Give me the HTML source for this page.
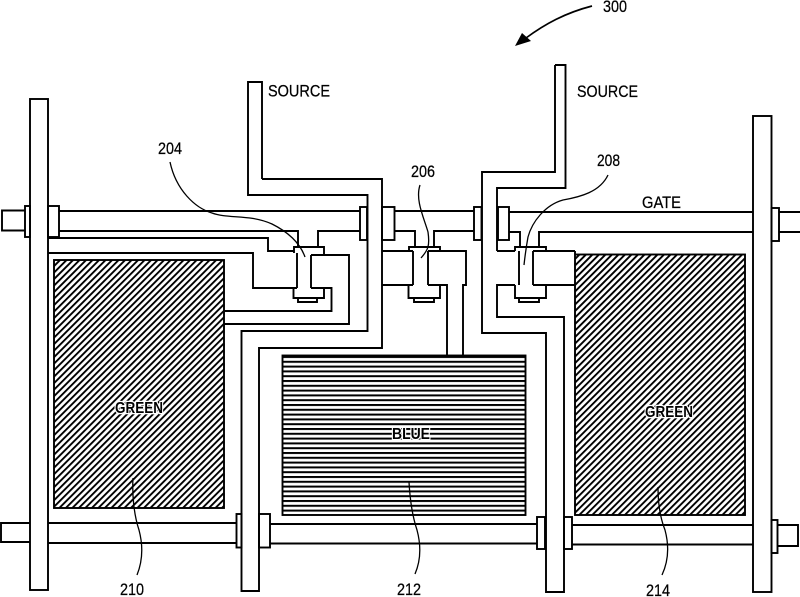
<!DOCTYPE html>
<html><head><meta charset="utf-8"><style>
html,body{margin:0;padding:0;background:#fff;width:800px;height:597px;overflow:hidden}
svg{display:block}
text{font-family:"Liberation Sans",sans-serif;fill:#000}
.n{font-size:17px;stroke:#000;stroke-width:.25}
</style></head><body>
<svg width="800" height="597" viewBox="0 0 800 597" xmlns="http://www.w3.org/2000/svg">
<defs>
<pattern id="h" width="4.6" height="4.6" patternUnits="userSpaceOnUse" patternTransform="rotate(45)">
<rect width="4.6" height="4.6" fill="#fff"/><rect x="0" y="0" width="1.9" height="4.6" fill="#000"/>
</pattern>
<pattern id="b" width="10" height="4.8" patternUnits="userSpaceOnUse" patternTransform="translate(0 356)">
<rect width="10" height="4.8" fill="#fff"/><rect y="0" width="10" height="2" fill="#000"/>
</pattern>
</defs>
<g fill="none" stroke="#000" stroke-width="1.900" stroke-linejoin="miter">
<!-- pixels -->
<rect x="54" y="260" width="170" height="248" fill="url(#h)"/>
<rect x="282.500" y="355.500" width="243" height="159.500" fill="url(#b)"/>
<rect x="575" y="254.500" width="170" height="260.500" fill="url(#h)"/>

<!-- vertical bars -->
<rect x="30" y="99" width="18" height="491"/>
<rect x="753" y="116" width="18.500" height="476"/>
<!-- top gate stubs and caps -->
<path d="M25 210.500H2V230.500H25"/>
<rect x="25" y="206" width="5" height="31"/>
<rect x="48" y="206" width="11" height="31"/>
<path d="M59 211H360M59 231H298V247M318 247V231H360"/>
<rect x="360" y="207" width="7" height="33"/>
<rect x="382" y="207" width="12.500" height="33"/>
<path d="M394.500 211H474M394.500 231H415V247M434 247V231H474"/>
<rect x="474" y="207" width="7.500" height="33"/>
<rect x="498" y="207" width="11" height="33"/>
<path d="M509 212H753M509 232H520V247M539 247V232H753"/>
<rect x="771.500" y="208" width="7.500" height="33"/>
<path d="M779 212H800M779 232H800"/>
<!-- bottom gate -->
<path d="M30 523H1V542H30"/>
<path d="M48 523H236.500M48 543H236.500"/>
<rect x="236.500" y="514" width="5" height="33.500"/>
<rect x="259" y="514" width="11" height="33.500"/>
<path d="M270 524H537M270 543.500H537"/>
<rect x="537" y="517" width="8" height="32"/>
<rect x="564" y="517" width="8" height="32"/>
<path d="M572 525H753M572 544.500H753"/>
<rect x="771.500" y="520" width="6" height="33"/>
<path d="M777.500 525H798V546H777.500"/>
<!-- left source -->
<path d="M262 179V82H248V195H367.500V331H241.500V591H259V348H382V179H262"/>
<!-- right source -->
<path d="M555 65V172H482V333H546V592H564V317H497V285H515M497 251V188H565.500V65H555"/>
<path d="M497 251H515"/>
<!-- TFT 204 -->
<path d="M48 238H268V251H294M48 253H253V288H297"/>
<path d="M294 253V247H324V255"/>
<path d="M297 253V288M311 255V288"/>
<path d="M293.500 288V298H324V288M298 298V302H317V298"/>
<path d="M311 255H349V324H224M311 288H331.500V311H224"/>
<!-- TFT 206 -->
<path d="M409 251V247H440V251"/>
<path d="M413 251V285M428 251V285M408.500 285V298H440V285M414 298V302H434V298"/>
<path d="M382 251H413M382 285H413M428 251H466V285H463V355M428 285H447V355"/>
<!-- TFT 208 -->
<path d="M515 251V247H546V251"/>
<path d="M519 251V285M533 251V285M515 285V298H546V285M519 298V302H539V298"/>
<path d="M533 251H575M533 285H575"/>
<path d="M575 251V254"/>
<!-- leaders -->
<g stroke-width="1.300" stroke="#000">
<path d="M170 162C176 190 195 208 212 213C228 219 250 214 272 224C288 232 300 243 305 257"/>
<path d="M420 185C415 200 424 218 428 232C430 246 428 250 421 258"/>
<path d="M608 175C600 192 580 197 563 200C545 205 532 222 528 237C526 248 525 256 524 265"/>
<path d="M133 478C132 495 134 515 139 530C143 545 143 560 137 575"/>
<path d="M409 482C410 500 413 518 417 530C421 545 421 560 415 574"/>
<path d="M658 487C658 505 661 520 665 530C669 545 669 560 662 575"/>
</g>
<path d="M592 6C565 13 545 24 526 38" stroke-width="1.700"/>
</g>
<path d="M515 46L522 33L531 41Z" fill="#000"/>
<g>
<text class="n" x="603" y="12" textLength="24" lengthAdjust="spacingAndGlyphs">300</text>
<text class="n" x="268" y="96.500" textLength="62" lengthAdjust="spacingAndGlyphs">SOURCE</text>
<text class="n" x="577" y="97" textLength="61" lengthAdjust="spacingAndGlyphs">SOURCE</text>
<text class="n" x="158" y="154" textLength="24" lengthAdjust="spacingAndGlyphs">204</text>
<text class="n" x="411" y="177" textLength="24" lengthAdjust="spacingAndGlyphs">206</text>
<text class="n" x="597" y="166" textLength="23" lengthAdjust="spacingAndGlyphs">208</text>
<text class="n" x="642" y="208" textLength="39" lengthAdjust="spacingAndGlyphs">GATE</text>
<text class="n" x="120" y="595" textLength="24" lengthAdjust="spacingAndGlyphs">210</text>
<text class="n" x="397" y="595" textLength="24" lengthAdjust="spacingAndGlyphs">212</text>
<text class="n" x="646" y="596" textLength="24" lengthAdjust="spacingAndGlyphs">214</text>
</g>
<g font-size="16" font-weight="bold">
<text x="115" y="413" textLength="48" lengthAdjust="spacingAndGlyphs" stroke="#fff" stroke-width="2.500" style="paint-order:stroke">GREEN</text>
<text x="392" y="439" textLength="38" lengthAdjust="spacingAndGlyphs" stroke="#fff" stroke-width="2.500" style="paint-order:stroke">BLUE</text>
<text x="645" y="417" textLength="48" lengthAdjust="spacingAndGlyphs" stroke="#fff" stroke-width="2.500" style="paint-order:stroke">GREEN</text>
</g>
</svg>
</body></html>
